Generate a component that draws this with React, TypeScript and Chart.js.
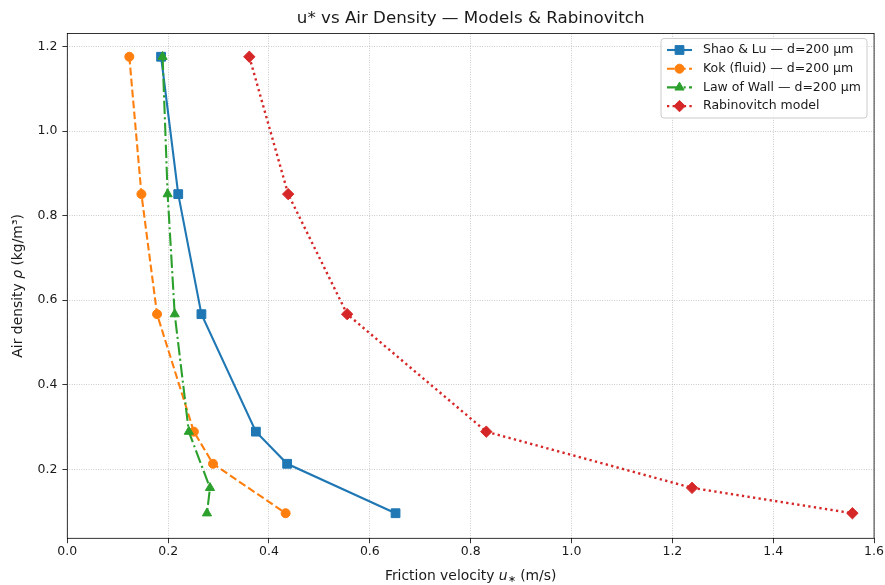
import React, { useEffect, useRef } from "react";
import { Chart, registerables } from "chart.js";

Chart.register(...registerables);

const TITLE = "u* vs Air Density — Models & Rabinovitch";
const X_TICKS = [0, 0.2, 0.4, 0.6, 0.8, 1.0, 1.2, 1.4, 1.6];
const Y_TICKS = [0.2, 0.4, 0.6, 0.8, 1.0, 1.2];

// air density values (kg/m^3)
const RHO_A = [1.176, 0.851, 0.567, 0.289, 0.213, 0.096];
const RHO_B = [1.176, 0.851, 0.567, 0.289, 0.156, 0.096];

// friction velocities (m/s)
const SHAO_U = [0.186, 0.22, 0.266, 0.374, 0.436, 0.651];
const KOK_U = [0.123, 0.147, 0.178, 0.251, 0.289, 0.433];
const WALL_U = [0.189, 0.199, 0.213, 0.241, 0.283, 0.277];
const RABI_U = [0.361, 0.438, 0.555, 0.831, 1.239, 1.557];

const SERIES_LABELS = [
  "Shao & Lu — d=200 µm",
  "Kok (fluid) — d=200 µm",
  "Law of Wall — d=200 µm",
  "Rabinovitch model",
];

const FONT = "'DejaVu Sans', sans-serif";
const TEXT = "#1a1a1a";

type Style = {
  color: string;
  dash: number[];
  marker: string;
  r: number;
  lw: number;
};

const STYLES: Style[] = [
  { color: "#1f77b4", dash: [], marker: "rect", r: 6.2, lw: 2.1 },
  { color: "#ff7f0e", dash: [7.7, 3.3], marker: "circle", r: 4.5, lw: 2.1 },
  { color: "#2ca02c", dash: [13.3, 3.3, 2.1, 3.3], marker: "triangle", r: 5.3, lw: 2.1 },
  { color: "#d62728", dash: [2.3, 3.3], marker: "rectRot", r: 5.7, lw: 2.4 },
];

function drawMarker(ctx: CanvasRenderingContext2D, m: string, x: number, y: number, r: number, color: string) {
  ctx.save();
  ctx.setLineDash([]);
  ctx.fillStyle = color;
  ctx.strokeStyle = color;
  ctx.lineWidth = 1;
  ctx.beginPath();
  if (m === "rect") {
    const s = Math.SQRT1_2 * r;
    ctx.rect(x - s, y - s, 2 * s, 2 * s);
  } else if (m === "circle") {
    ctx.arc(x, y, r, 0, Math.PI * 2);
  } else if (m === "triangle") {
    for (let i = 0; i < 3; i++) {
      const a = (i * 2 * Math.PI) / 3;
      const px = x + Math.sin(a) * r;
      const py = y - Math.cos(a) * r;
      if (i === 0) ctx.moveTo(px, py);
      else ctx.lineTo(px, py);
    }
    ctx.closePath();
  } else {
    ctx.moveTo(x, y - r);
    ctx.lineTo(x + r, y);
    ctx.lineTo(x, y + r);
    ctx.lineTo(x - r, y);
    ctx.closePath();
  }
  ctx.fill();
  ctx.stroke();
  ctx.restore();
}

type Run = { t: string; font: string; dy?: number };

function drawRuns(ctx: CanvasRenderingContext2D, runs: Run[], cx: number, cy: number) {
  let total = 0;
  const widths = runs.map((r) => {
    ctx.font = r.font;
    const w = ctx.measureText(r.t).width;
    total += w;
    return w;
  });
  let x = cx - total / 2;
  ctx.textAlign = "left";
  ctx.textBaseline = "middle";
  runs.forEach((r, i) => {
    ctx.font = r.font;
    ctx.fillText(r.t, x, cy + (r.dy || 0));
    x += widths[i];
  });
}

const decoPlugin = {
  id: "deco",
  afterDraw(chart: any) {
    const ctx: CanvasRenderingContext2D = chart.ctx;
    const a = chart.chartArea;
    ctx.save();
    // frame
    ctx.setLineDash([]);
    ctx.strokeStyle = "#000";
    ctx.lineWidth = 0.8;
    ctx.strokeRect(a.left, a.top, a.right - a.left, a.bottom - a.top);

    ctx.fillStyle = TEXT;
    const cx = (a.left + a.right) / 2;
    // title
    ctx.font = `16.7px ${FONT}`;
    ctx.textAlign = "center";
    ctx.textBaseline = "middle";
    ctx.fillText(TITLE, cx, 19);

    // x label
    const n = `13.9px ${FONT}`;
    const it = `oblique 13.9px ${FONT}`;
    drawRuns(
      ctx,
      [
        { t: "Friction velocity ", font: n },
        { t: "u", font: it },
        { t: "∗", font: `9.7px ${FONT}`, dy: 3 },
        { t: " (m/s)", font: n },
      ],
      cx,
      576
    );

    // y label
    ctx.save();
    ctx.translate(18, (a.top + a.bottom) / 2);
    ctx.rotate(-Math.PI / 2);
    drawRuns(
      ctx,
      [
        { t: "Air density ", font: n },
        { t: "ρ", font: it },
        { t: " (kg/m³)", font: n },
      ],
      0,
      0
    );
    ctx.restore();

    // legend
    const bx = 661, by = 38.5, bw = 206, bh = 79.5, br = 3;
    ctx.beginPath();
    ctx.moveTo(bx + br, by);
    ctx.lineTo(bx + bw - br, by);
    ctx.quadraticCurveTo(bx + bw, by, bx + bw, by + br);
    ctx.lineTo(bx + bw, by + bh - br);
    ctx.quadraticCurveTo(bx + bw, by + bh, bx + bw - br, by + bh);
    ctx.lineTo(bx + br, by + bh);
    ctx.quadraticCurveTo(bx, by + bh, bx, by + bh - br);
    ctx.lineTo(bx, by + br);
    ctx.quadraticCurveTo(bx, by, bx + br, by);
    ctx.closePath();
    ctx.fillStyle = "rgba(255,255,255,0.8)";
    ctx.fill();
    ctx.strokeStyle = "#cccccc";
    ctx.lineWidth = 1;
    ctx.stroke();

    SERIES_LABELS.forEach((label, i) => {
      const st = STYLES[i];
      const y = 50 + i * 18.7;
      ctx.save();
      ctx.strokeStyle = st.color;
      ctx.lineWidth = st.lw;
      ctx.setLineDash(st.dash);
      ctx.beginPath();
      ctx.moveTo(667, y);
      ctx.lineTo(692, y);
      ctx.stroke();
      ctx.restore();
      drawMarker(ctx, st.marker, 679.5, y, st.r, st.color);
      ctx.fillStyle = TEXT;
      ctx.font = `12.5px ${FONT}`;
      ctx.textAlign = "left";
      ctx.textBaseline = "middle";
      ctx.fillText(label, 703, y);
    });

    ctx.restore();
  },
};

function makeData(us: number[], rhos: number[]) {
  return us.map((u, i) => ({ x: u, y: rhos[i] }));
}

export default function App() {
  const ref = useRef<HTMLCanvasElement | null>(null);

  useEffect(() => {
    const canvas = ref.current;
    if (!canvas) return;
    const series = [
      makeData(SHAO_U, RHO_A),
      makeData(KOK_U, RHO_A),
      makeData(WALL_U, RHO_B),
      makeData(RABI_U, RHO_B),
    ];
    const datasets = series.map((d, i) => {
      const st = STYLES[i];
      return {
        label: SERIES_LABELS[i],
        data: d,
        showLine: true,
        borderColor: st.color,
        backgroundColor: st.color,
        borderWidth: st.lw,
        borderDash: st.dash,
        borderCapStyle: "butt" as const,
        pointStyle: st.marker,
        pointRadius: st.r,
        pointHoverRadius: st.r,
        pointBorderWidth: 1,
        pointBackgroundColor: st.color,
        pointBorderColor: st.color,
        tension: 0,
        order: 3 - i,
      };
    });

    const gridCommon = {
      color: "#b0b0b0",
      lineWidth: 0.8,
      drawTicks: true,
      tickLength: 4.9,
      tickColor: "#000",
      tickWidth: 0.8,
      tickBorderDash: [],
    };
    const ticksCommon = {
      font: { family: FONT, size: 12.5 },
      color: TEXT,
      padding: 4.9,
      maxRotation: 0,
      autoSkip: false,
      callback: (v: any) => Number(v).toFixed(1),
    };

    const chart = new Chart(canvas, {
      type: "scatter",
      data: { datasets: datasets as any },
      options: {
        animation: false,
        responsive: false,
        devicePixelRatio: 1,
        layout: { padding: { top: 33.5, right: 10.7, left: 0, bottom: 0 } },
        plugins: {
          legend: { display: false },
          title: { display: false },
          tooltip: { enabled: false },
        },
        scales: {
          x: {
            type: "linear",
            min: 0,
            max: 1.6,
            afterFit: (s: any) => {
              s.height = 46.7;
            },
            afterBuildTicks: (s: any) => {
              s.ticks = X_TICKS.map((v) => ({ value: v }));
            },
            grid: gridCommon,
            border: { display: false, dash: [0.8, 1.6] },
            ticks: { ...ticksCommon, padding: 1 },
          },
          y: {
            type: "linear",
            min: 0.0367,
            max: 1.231,
            afterFit: (s: any) => {
              s.width = 67.3;
            },
            afterBuildTicks: (s: any) => {
              s.ticks = Y_TICKS.map((v) => ({ value: v }));
            },
            grid: gridCommon,
            border: { display: false, dash: [0.8, 1.6] },
            ticks: ticksCommon,
          },
        },
      } as any,
      plugins: [decoPlugin],
    });
    return () => chart.destroy();
  }, []);

  return (
    <div
      style={{
        position: "fixed",
        left: 0,
        top: 0,
        width: 885,
        height: 585,
        background: "#fff",
      }}
    >
      <canvas ref={ref} width={885} height={585} style={{ width: 885, height: 585, display: "block" }} />
    </div>
  );
}
